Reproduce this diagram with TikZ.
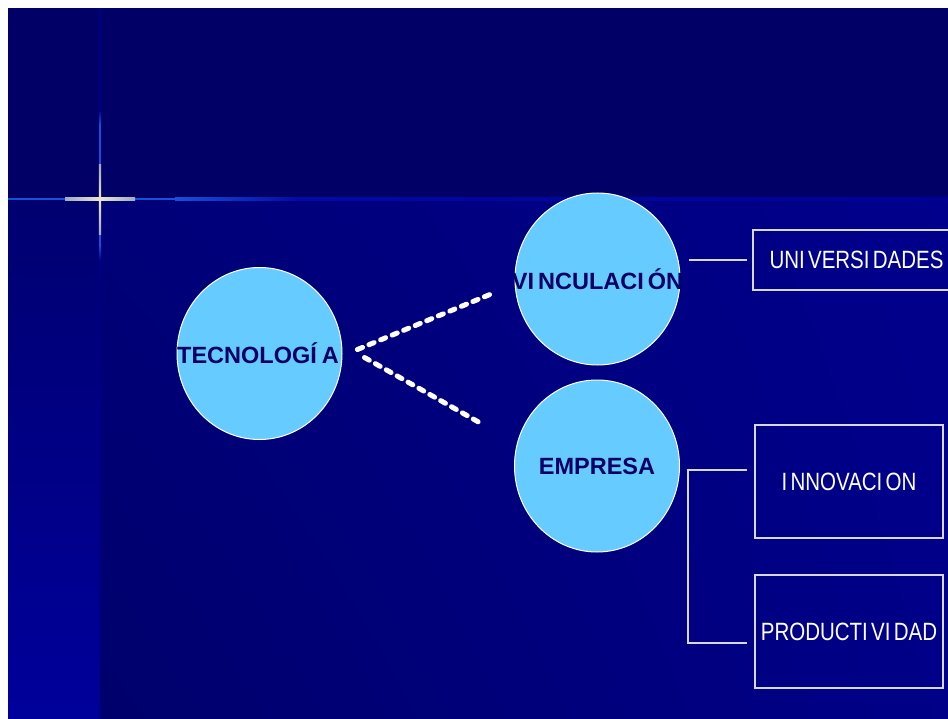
\documentclass[tikz,border=0pt]{standalone}
\usepackage{fontspec}
\setmainfont{Liberation Sans}
\usepackage{graphicx}
\usetikzlibrary{shapes.geometric,shadings}
\definecolor{topband}{RGB}{0,0,102}
\definecolor{mainLL}{RGB}{0,0,108}
\definecolor{mainUL}{RGB}{0,0,120}
\definecolor{mainLR}{RGB}{0,0,136}
\definecolor{mainUR}{RGB}{0,0,140}
\definecolor{stripTop}{RGB}{0,0,112}
\definecolor{stripBot}{RGB}{0,0,155}
\definecolor{glowblue}{RGB}{25,80,215}
\definecolor{linefade}{RGB}{0,10,165}
\definecolor{lineend}{RGB}{0,0,150}
\definecolor{vfaint}{RGB}{0,0,135}
\definecolor{crossend}{RGB}{160,170,195}
\definecolor{crossmid}{RGB}{235,230,200}
\definecolor{bubblefill}{RGB}{102,204,255}
\definecolor{bubbletextc}{RGB}{0,0,102}
\definecolor{linkgray}{RGB}{215,215,230}
\begin{document}
\begin{tikzpicture}[x=1pt,y=-1pt,
  bubble/.style={ellipse, fill=bubblefill, draw=white, line width=1pt,
    minimum width=165pt, minimum height=172pt, inner sep=0pt},
  bubbletext/.style={text=bubbletextc, inner sep=0pt,
    font=\fontsize{23.5}{27}\selectfont\bfseries},
  itembox/.style={draw=linkgray, line width=1.2pt, inner sep=0pt, text=white,
    font=\fontsize{25}{29}\selectfont},
  link/.style={draw=linkgray, line width=1.2pt},
  dashlink/.style={draw=white, line width=5pt, line cap=round,
    dash pattern=on 5.5pt off 7pt}
]
\useasboundingbox (0,0) rectangle (948,719);
\fill[white] (0,0) rectangle (948,719);
% background
\fill[topband] (8,8) rectangle (948,199);
\shade[upper left=mainUL, upper right=mainUR, lower left=mainLL, lower right=mainLR]
  (100,199) rectangle (948,719);
\shade[top color=stripTop, bottom color=stripBot] (8,199) rectangle (100,719);
% horizontal rule
\fill[glowblue] (8,198) rectangle (175,200.5);
\shade[left color=glowblue, right color=linefade] (175,198) rectangle (300,200.5);
\shade[left color=linefade, right color=lineend] (300,198) rectangle (948,200.5);
% vertical rule
\fill[vfaint] (99,8) rectangle (101,719);
\shade[top color=vfaint, bottom color=glowblue] (99,110) rectangle (101,125);
\fill[glowblue] (99,125) rectangle (101,165);
\fill[glowblue] (99,235) rectangle (101,245);
\shade[top color=glowblue, bottom color=vfaint] (99,245) rectangle (101,260);
% cross highlight
\shade[left color=crossend, right color=crossend, middle color=crossmid]
  (65,198) rectangle (135,200.5);
\shade[top color=crossend, bottom color=crossend, middle color=crossmid]
  (98.8,165) rectangle (101.2,235);
% bubbles
\node[bubble] (tec) at (259.5,353.5) {};
\node[bubbletext] (tect) at ([xshift=-1.5pt]tec.center) {TECNOLOG\'I\kern5pt A};
\node[bubble] (vinc) at (597.5,279) {};
\node[bubbletext] (vinct) at (vinc) {VI\kern4pt NCULACI\kern4pt \'ON};
\node[bubble] (emp) at (597,466) {};
\node[bubbletext] (empt) at (emp) {EMPRESA};
% boxes
\node[itembox, minimum width=207pt, minimum height=60pt] (univ) at (856.5,260)
  {\scalebox{0.82}[1]{UNI\kern4pt VERSI\kern4pt DADES}};
\node[itembox, minimum width=188pt, minimum height=113pt] (inn) at (849,481.5)
  {\scalebox{0.82}[1]{I\kern4pt NNOVACI\kern4pt ON}};
\node[itembox, minimum width=188pt, minimum height=113pt] (prod) at (849,631.5)
  {\scalebox{0.82}[1]{PRODUCTI\kern4pt VI\kern4pt DAD}};
% dashed links
\draw[dashlink] ([xshift=15pt,yshift=4pt]tec.east) -- ([xshift=-21pt,yshift=-14pt]vinc.west);
\draw[dashlink] ([xshift=22pt,yshift=-4pt]tec.east) -- ([xshift=-32pt,yshift=42pt]emp.west);
% solid links
\draw[link] ([xshift=8pt]vinc.east |- univ.west) -- ([xshift=-5pt]univ.west);
\coordinate (bt) at ([xshift=-7pt,yshift=11.5pt]inn.west);
\coordinate (bb) at ([xshift=-7pt,yshift=-11.5pt]prod.west);
\coordinate (bx) at ([xshift=8pt]emp.east);
\draw[link] (bt) -- (bx |- bt) -- (bx |- bb) -- (bb);
\end{tikzpicture}
\end{document}
